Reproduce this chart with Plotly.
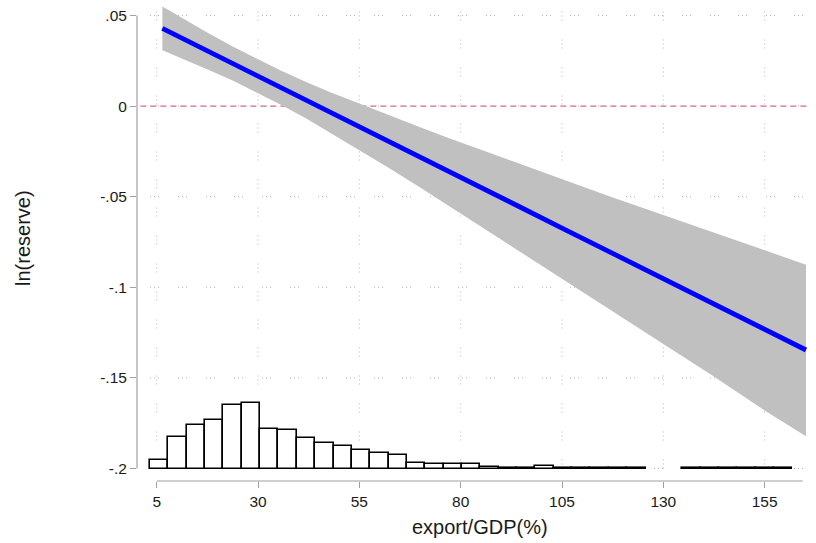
import plotly.graph_objects as go

# ---- data ----
fit_x = [6.4, 12, 18, 24, 30, 36, 42, 48, 55, 62, 70, 77, 85, 95, 105, 117, 130, 142, 155, 165.2]
fit_y = [0.0429, 0.0366, 0.0299, 0.0232, 0.0165, 0.0098, 0.0031, -0.0036, -0.0114,
         -0.0192, -0.0282, -0.0360, -0.0449, -0.0561, -0.0673, -0.0807, -0.0952,
         -0.1086, -0.1232, -0.1346]
ci_upper = [0.0550, 0.0477, 0.0400, 0.0326, 0.0257, 0.0192, 0.0132, 0.0075, 0.0014,
            -0.0048, -0.0117, -0.0176, -0.0241, -0.0322, -0.0403, -0.0500, -0.0601,
            -0.0694, -0.0795, -0.0875]
ci_lower = [0.0308, 0.0255, 0.0198, 0.0138, 0.0073, 0.0004, -0.0070, -0.0147, -0.0242,
            -0.0337, -0.0449, -0.0548, -0.0662, -0.0806, -0.0951, -0.1124, -0.1313,
            -0.1486, -0.1680, -0.1822]

hist_start = 3.35
hist_width = 4.528
hist_heights = [0.0047, 0.0174, 0.0238, 0.0269, 0.0352, 0.0363, 0.0218, 0.0212,
                0.0167, 0.0142, 0.0123, 0.0104, 0.0084, 0.0073, 0.0032, 0.0026,
                0.0026, 0.0023, 0.0010, 0.0003, 0.0002, 0.0012, 0.0002, 0.0002,
                0.0002, 0.0002, 0.0002, None, None, 0.0002, 0.0002, 0.0002,
                0.0002, 0.0002, 0.0002]
hist_base = -0.2

x_ticks = [5, 30, 55, 80, 105, 130, 155]
x_ticktext = ["5", "30", "55", "80", "105", "130", "155"]
y_ticks = [0.05, 0, -0.05, -0.1, -0.15, -0.2]
y_ticktext = [".05", "0", "-.05", "-.1", "-.15", "-.2"]
ref_y = 0

x_title = "export/GDP(%)"
y_title = "ln(reserve)"

# ---- figure ----
font_family = "Liberation Sans, Arial, sans-serif"
text_col = "#1a1a1a"
axis_col = "#a0a0a0"
grid_col = "#b4b4b4"
grid_dash = "1px,3px,1px,3px,1px,19px"

centers = [hist_start + hist_width * (i + 0.5) for i in range(len(hist_heights))]

fig = go.Figure()

fig.add_trace(go.Bar(
    x=centers, y=hist_heights, base=hist_base, width=hist_width,
    marker=dict(color="white", line=dict(color="black", width=1.6)),
    hoverinfo="skip", showlegend=False,
))

fig.add_trace(go.Scatter(
    x=fit_x + fit_x[::-1], y=ci_upper + ci_lower[::-1],
    fill="toself", fillcolor="#c0c0c0", line=dict(width=0),
    mode="lines", hoverinfo="skip", showlegend=False,
))

fig.add_trace(go.Scatter(
    x=fit_x, y=fit_y, mode="lines",
    line=dict(color="#0000ff", width=4.8),
    hoverinfo="skip", showlegend=False,
))

shapes = []
grid_x0, grid_x1 = hist_start, fit_x[-1] + 0.5
grid_y0, grid_y1 = y_ticks[-1], 0.0545
for xv in x_ticks:
    shapes.append(dict(type="line", xref="x", yref="y", x0=xv, x1=xv,
                       y0=grid_y0, y1=grid_y1, layer="below",
                       line=dict(color=grid_col, width=1, dash=grid_dash)))
for yv in y_ticks:
    shapes.append(dict(type="line", xref="x", yref="y", x0=grid_x0, x1=grid_x1,
                       y0=yv, y1=yv, layer="below",
                       line=dict(color=grid_col, width=1, dash=grid_dash)))
# reference line at 0
shapes.append(dict(type="line", xref="paper", yref="y", x0=0.005, x1=1,
                   y0=ref_y, y1=ref_y, layer="below",
                   line=dict(color="#e0609e", width=1.2, dash="6px,4px")))
# axis lines
shapes.append(dict(type="line", xref="paper", yref="y", x0=0, x1=0,
                   y0=y_ticks[-1], y1=y_ticks[0],
                   line=dict(color=axis_col, width=1.2)))
shapes.append(dict(type="line", xref="x", yref="paper", x0=x_ticks[0], x1=164.4,
                   y0=0, y1=0, line=dict(color=axis_col, width=1.2)))

fig.update_layout(
    width=816, height=543,
    margin=dict(l=137, r=6, t=5, b=62),
    paper_bgcolor="white", plot_bgcolor="white",
    font=dict(family=font_family, color=text_col),
    shapes=shapes,
    bargap=0,
    hovermode=False,
    xaxis=dict(range=[0.14, 166.19], showgrid=False, zeroline=False, showline=False,
               tickmode="array", tickvals=x_ticks, ticktext=x_ticktext,
               ticks="outside", ticklen=6, tickcolor=axis_col, tickwidth=1.2,
               tickfont=dict(size=15.5, color=text_col, family=font_family)),
    yaxis=dict(range=[-0.2069, 0.0558], showgrid=False, zeroline=False, showline=False,
               tickmode="array", tickvals=y_ticks, ticktext=y_ticktext,
               ticks="outside", ticklen=6, tickcolor=axis_col, tickwidth=1.2,
               tickfont=dict(size=15.5, color=text_col, family=font_family)),
    annotations=[
        dict(text=x_title, xref="paper", yref="paper", x=0.5097, y=-0.0966,
             xanchor="center", yanchor="middle", showarrow=False,
             font=dict(size=20, color=text_col, family=font_family)),
        dict(text=y_title, xref="paper", yref="paper", x=-0.1694, y=0.5105,
             xanchor="center", yanchor="middle", showarrow=False, textangle=-90,
             font=dict(size=20, color=text_col, family=font_family)),
    ],
)

fig.write_html(
    "out.html",
    config={"displayModeBar": False},
    post_script="document.body.style.margin='0';document.body.style.padding='0';",
)
